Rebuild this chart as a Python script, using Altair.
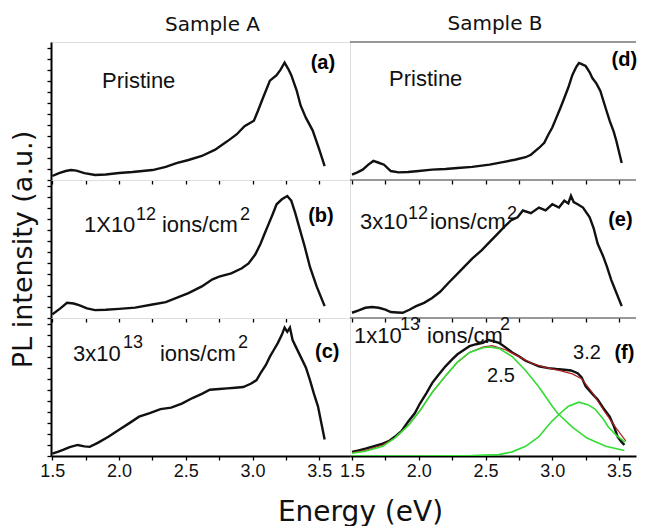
import altair as alt
import pandas as pd

# ---------------- data (intensity in a.u., 0-100 per panel) -------------
a_E = [1.50, 1.55, 1.60, 1.64, 1.68, 1.74, 1.82, 1.90, 2.00, 2.10, 2.25, 2.35, 2.43, 2.52, 2.62,
       2.72, 2.81, 2.88, 2.94, 3.01, 3.04, 3.08, 3.13, 3.18, 3.21, 3.24, 3.27, 3.29, 3.33, 3.36,
       3.40, 3.45, 3.50, 3.54]
a_I = [2.9, 5.0, 6.5, 7.2, 6.8, 5.0, 3.6, 4.0, 5.1, 5.8, 7.2, 9.5, 12.3, 14.5, 17.4,
       22, 28, 33, 39, 43, 50, 60, 72, 76, 80, 85, 80, 76, 65, 54,
       45, 36, 22, 10]

b_E = [1.50, 1.56, 1.61, 1.66, 1.70, 1.76, 1.82, 1.90, 2.00, 2.12, 2.25, 2.35, 2.43, 2.52, 2.62,
       2.70, 2.75, 2.84, 2.92, 2.97, 3.02, 3.06, 3.09, 3.12, 3.15, 3.18, 3.22, 3.26, 3.29, 3.32,
       3.35, 3.39, 3.43, 3.48, 3.54]
b_I = [2.6, 7, 11, 10.5, 9.3, 7, 5.7, 6, 6.6, 7.5, 9.8, 11.5, 14.5, 18, 22.9,
       28, 30, 32.4, 36, 39.5, 46, 53.8, 61, 68, 75, 82.4, 86, 88.4, 85, 76,
       65.7, 52, 37, 22.9, 8.6]

c_E = [1.50, 1.54, 1.58, 1.63, 1.69, 1.74, 1.78, 1.84, 1.92, 2.00, 2.08, 2.15, 2.23, 2.31, 2.39,
       2.47, 2.55, 2.62, 2.68, 2.75, 2.81, 2.87, 2.93, 2.99, 3.03, 3.06, 3.10, 3.13, 3.16, 3.19,
       3.22, 3.24, 3.26, 3.28, 3.30, 3.33, 3.36, 3.40, 3.43, 3.46, 3.49, 3.54]
c_I = [1.7, 3.0, 4.4, 6.5, 8, 7, 6.6, 9.5, 14, 19, 24, 28.5, 31, 34, 35,
       38, 42, 45, 48, 48.5, 49, 49.5, 50, 52.5, 55, 60, 66, 72, 77, 82,
       88, 93, 90, 93, 84, 78, 72, 64, 55, 45, 36, 12]

d_E = [1.50, 1.54, 1.58, 1.62, 1.66, 1.70, 1.74, 1.79, 1.85, 1.92, 2.00, 2.10, 2.20, 2.29, 2.40,
       2.53, 2.63, 2.72, 2.80, 2.84, 2.90, 2.94, 2.97, 3.00, 3.03, 3.06, 3.09, 3.12, 3.15, 3.18,
       3.20, 3.22, 3.25, 3.28, 3.30, 3.33, 3.36, 3.40, 3.43, 3.46, 3.48, 3.52]
d_I = [3.9, 5.5, 7.5, 11, 13.8, 12.5, 11.1, 6.5, 5.5, 5.8, 6.5, 7.5, 8, 8.7, 9.5,
       11.1, 13, 14.7, 16.5, 18.3, 23.2, 27, 32.8, 38, 45, 52, 59.4, 67, 76, 82,
       84.8, 84, 82.6, 78, 73.9, 70, 64.5, 52, 42.8, 35, 28.3, 12.3]

e_E = [1.50, 1.55, 1.60, 1.65, 1.70, 1.75, 1.79, 1.84, 1.88, 1.93, 1.98, 2.04, 2.10, 2.16, 2.22,
       2.28, 2.34, 2.40, 2.47, 2.53, 2.59, 2.64, 2.69, 2.74, 2.78, 2.84, 2.90, 2.95, 3.00, 3.05,
       3.09, 3.12, 3.14, 3.16, 3.19, 3.23, 3.28, 3.31, 3.34, 3.38, 3.41, 3.44, 3.47, 3.52]
e_I = [3.8, 5.5, 7.4, 8, 7.4, 6, 4.3, 4, 3.8, 6, 8.6, 11, 14.5, 19, 25.2,
       31, 37, 43, 49, 55, 60.9, 66, 70.7, 73, 77.9, 76, 80, 78, 82.4, 80,
       85, 83, 88.6, 84, 82.4, 80, 72.9, 65, 53.8, 45, 37, 28, 20.7, 8.6]

f_E = [1.50, 1.55, 1.60, 1.66, 1.73, 1.78, 1.82, 1.87, 1.92, 1.97, 2.01, 2.06, 2.10, 2.15, 2.20,
       2.25, 2.29, 2.34, 2.38, 2.43, 2.48, 2.52, 2.56, 2.60, 2.63, 2.66, 2.70, 2.75, 2.80, 2.84,
       2.90, 2.97, 3.03, 3.09, 3.14, 3.19, 3.22, 3.25, 3.30, 3.34, 3.38, 3.43, 3.46, 3.49, 3.52, 3.54]
f_I = [2.9, 4, 5.3, 7, 8.9, 11, 13.9, 18, 24.8, 31, 38.2, 46, 52.8, 59, 65,
       70, 73.7, 77, 79.6, 81, 82, 84, 83.2, 82, 80, 78, 75, 72.3, 69, 67.4,
       65, 63.7, 63, 62.5, 62, 60, 57, 50.4, 45, 40.9, 35, 28.5, 22, 13.9, 10, 8]

fit_E = [1.50, 1.60, 1.73, 1.82, 1.92, 2.01, 2.10, 2.20, 2.29, 2.38, 2.48, 2.55, 2.65, 2.75, 2.85,
         2.95, 3.05, 3.15, 3.22, 3.30, 3.40, 3.48, 3.55]
fit_I = [2.5, 4, 8, 13, 22, 33, 46, 58, 68, 75, 79, 80, 77, 72, 67,
         64, 62, 59.5, 56, 46, 31, 20, 11]

g1_E = [1.50, 1.60, 1.73, 1.82, 1.92, 2.01, 2.10, 2.20, 2.29, 2.38, 2.48, 2.53, 2.60, 2.70, 2.80,
        2.90, 3.00, 3.04, 3.15, 3.26, 3.40, 3.54]
g1_I = [2, 3.5, 7, 13, 22, 33, 46, 58, 68, 75, 78.5, 79, 78, 72, 62,
        50, 36, 31, 21, 13, 7, 4]

g2_E = [1.50, 2.00, 2.40, 2.60, 2.70, 2.80, 2.90, 2.95, 3.00, 3.06, 3.12, 3.20, 3.27, 3.32, 3.38,
        3.42, 3.48, 3.545]
g2_I = [0, 0, 0.3, 1, 3, 7, 14, 20, 25.5, 31, 36, 39, 37, 34, 27,
        21, 15, 10]

column_titles = ["Sample A", "Sample B"]
x_ticks = [1.5, 1.75, 2.0, 2.25, 2.5, 2.75, 3.0, 3.25, 3.5]
y_ticks = [0, 8, 16, 24, 32, 40, 48, 56, 64, 72, 80, 88, 96]

# annotation text: (E, I, text)
tag_pos = {"(a)": (3.527, 84.8), "(b)": (3.512, 73.6), "(c)": (3.56, 75.2),
           "(d)": (3.54, 87.0), "(e)": (3.51, 70.7), "(f)": (3.54, 74.5)}
main_text = {
    "a": [(1.872, 66.7, "Pristine")],
    "d": [(1.777, 68.1, "Pristine")],
    "b": [(1.737, 62.1, "1X10"), (2.321, 62.1, "ions/cm")],
    "c": [(1.655, 68.6, "3x10"), (2.306, 68.6, "ions/cm")],
    "e": [(1.560, 64.3, "3x10"), (2.084, 64.3, "ions/cm")],
    "f": [(1.515, 81.8, "1x10"), (2.062, 81.8, "ions/cm")],
}
sup_text = {
    "b": [(2.127, 70.7, "12"), (2.906, 70.7, "2")],
    "c": [(2.029, 78.1, "13"), (2.891, 78.1, "2")],
    "e": [(1.920, 72.1, "12"), (2.661, 72.1, "2")],
    "f": [(1.860, 91.2, "13"), (2.609, 91.2, "2")],
}
peak_text = [(2.616, 57.7, "2.5"), (3.26, 74.5, "3.2")]

LW, RW, H = 299, 286, 138
LDOM = [1.49, 3.73]
RDOM = [1.485, 3.627]
FONT = "Liberation Sans"
TFONT = "DejaVu Sans"


def df_line(E, I):
    return pd.DataFrame({"E": E, "I": I})


def df_text(rows):
    return pd.DataFrame({"E": [r[0] for r in rows], "I": [r[1] for r in rows],
                         "t": [r[2] for r in rows]})


def x_axis(bottom, title=False):
    kw = dict(values=x_ticks, tickSize=4, tickColor="black", tickWidth=1.3, grid=False,
              labelOverlap=False, labelFlush=False)
    if bottom:
        kw.update(labels=True, labelExpr="datum.value % 0.5 == 0 ? format(datum.value, '.1f') : ''",
                  labelFont=FONT, labelFontSize=18, labelColor="#111", labelPadding=2,
                  domain=True, domainColor="black", domainWidth=2)
    else:
        kw.update(labels=False, domain=False)
    if title:
        kw.update(title="Energy (eV)", titleFont=TFONT, titleFontSize=28, titleFontWeight="normal",
                  titleColor="#111", titleX=309, titleY=64, titleAlign="center",
                  titleBaseline="alphabetic")
    else:
        kw.update(title=None)
    return alt.Axis(**kw)


def y_axis(title=False):
    kw = dict(values=y_ticks, labels=False, tickSize=4, tickColor="black", tickWidth=1.3,
              grid=False, domain=True, domainColor="black", domainWidth=2)
    if title:
        kw.update(title="PL intensity (a.u.)", titleFont=TFONT, titleFontSize=27,
                  titleFontWeight="normal", titleColor="#111", titlePadding=9)
    else:
        kw.update(title=None)
    return alt.Axis(**kw)


def panel(key, lines, dom, width, xax, yax, title=None, right=False, tdx=0):
    X = alt.X("E:Q", scale=alt.Scale(domain=dom, nice=False, zero=False), axis=xax)
    if yax is None:
        Y = alt.Y("I:Q", scale=alt.Scale(domain=[0, 100], nice=False, zero=False), axis=None)
    else:
        Y = alt.Y("I:Q", scale=alt.Scale(domain=[0, 100], nice=False, zero=False), axis=yax)
    layers = []
    if right:
        # top border of a right-hand panel (its right edge has no frame, as in the reference)
        layers.append(alt.Chart(df_line([1.5], [0])).mark_rule(color="#333333", strokeWidth=1.2)
                      .encode(x=alt.value(0), x2=alt.value(width), y=alt.value(0)))
    for df, color, w in lines:
        layers.append(alt.Chart(df).mark_line(color=color, strokeWidth=w, clip=True)
                      .encode(x=X, y=Y))
    tag = "(" + key + ")"
    layers.append(alt.Chart(df_text([(tag_pos[tag][0], tag_pos[tag][1], tag)]))
                  .mark_text(font=FONT, fontSize=20, fontWeight="bold", align="center",
                             baseline="middle", color="black")
                  .encode(x=X, y=Y, text="t:N"))
    layers.append(alt.Chart(df_text(main_text[key]))
                  .mark_text(font=FONT, fontSize=22, align="left", baseline="alphabetic",
                             color="#111")
                  .encode(x=X, y=Y, text="t:N"))
    if key in sup_text:
        layers.append(alt.Chart(df_text(sup_text[key]))
                      .mark_text(font=FONT, fontSize=18, align="left", baseline="alphabetic",
                                 color="#111")
                      .encode(x=X, y=Y, text="t:N"))
    if key == "f":
        layers.append(alt.Chart(df_text(peak_text))
                      .mark_text(font=FONT, fontSize=20, align="center", baseline="middle",
                                 color="#111")
                      .encode(x=X, y=Y, text="t:N"))
    ch = alt.layer(*layers).properties(width=width, height=H)
    if right:
        ch = ch.properties(view=alt.ViewBackground(strokeOpacity=0))
    if title:
        ch = ch.properties(title=alt.TitleParams(text=title, font=TFONT, fontSize=20,
                                                 fontWeight="normal", color="#111",
                                                 anchor="middle", baseline="alphabetic",
                                                 offset=-9, dx=tdx))
    return ch


BLACK = "#111111"
LWID = 2.4
pa = panel("a", [(df_line(a_E, a_I), BLACK, LWID)], LDOM, LW, x_axis(False), y_axis(),
           column_titles[0], tdx=12)
pdd = panel("d", [(df_line(d_E, d_I), BLACK, LWID)], RDOM, RW, x_axis(False), None,
            column_titles[1], True, tdx=2)
pb = panel("b", [(df_line(b_E, b_I), BLACK, LWID)], LDOM, LW, x_axis(False), y_axis(True))
pe = panel("e", [(df_line(e_E, e_I), BLACK, LWID)], RDOM, RW, x_axis(False), None, None, True)
pc = panel("c", [(df_line(c_E, c_I), BLACK, LWID)], LDOM, LW, x_axis(True, True), y_axis())
pf = panel("f", [(df_line(f_E, f_I), BLACK, LWID), (df_line(fit_E, fit_I), "#b02020", 1.2),
                 (df_line(g1_E, g1_I), "#33dd33", 1.6), (df_line(g2_E, g2_I), "#33dd33", 1.6)],
           RDOM, RW, x_axis(True), None, None, True)

chart = (alt.concat(pa, pdd, pb, pe, pc, pf, columns=2, spacing=0)
         .properties(bounds="flush", padding={"left": 0, "top": 6, "right": 0, "bottom": 0},
                     background="white")
         .configure_view(stroke="#333333", strokeWidth=1.2)
         .configure(font=FONT))

chart.save("out.html", embed_options={"renderer": "svg", "actions": False})
